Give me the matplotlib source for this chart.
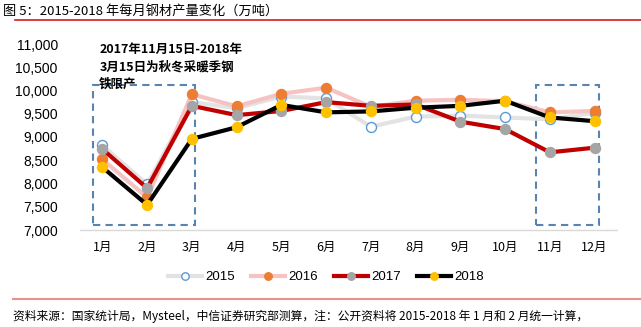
import matplotlib
matplotlib.use("Agg")
import matplotlib.pyplot as plt
from matplotlib.patches import Rectangle
from matplotlib.lines import Line2D

plt.rcParams['font.family'] = ['Noto Sans CJK SC', 'DejaVu Sans']

months = ["1月", "2月", "3月", "4月", "5月", "6月", "7月", "8月", "9月", "10月", "11月", "12月"]
y2015 = [8820, 7980, 9750, 9620, 9870, 9830, 9220, 9440, 9460, 9420, 9380, 9520]
y2016 = [8520, 7700, 9920, 9660, 9930, 10060, 9650, 9780, 9800, 9770, 9530, 9560]
y2017 = [8740, 7900, 9670, 9470, 9560, 9750, 9670, 9700, 9330, 9170, 8670, 8770]
y2018 = [8350, 7540, 8960, 9210, 9690, 9530, 9550, 9630, 9670, 9780, 9420, 9340]
yticks = [7000, 7500, 8000, 8500, 9000, 9500, 10000, 10500, 11000]

W, H = 641, 327
fig = plt.figure(figsize=(W / 100, H / 100), dpi=100)
ax = fig.add_axes([80 / W, (H - 230) / H, 537 / W, 186 / H])

x = list(range(len(months)))
series = [
    ("2015", y2015, "#e3e3e3", "white", "#5b9bd5"),
    ("2016", y2016, "#f6c3c3", "#ed7d31", "#ed7d31"),
    ("2017", y2017, "#c00000", "#a5a5a5", "#a5a5a5"),
    ("2018", y2018, "#000000", "#ffc000", "#ffc000"),
]
handles = []
for name, vals, lc, mfc, mec in series:
    h, = ax.plot(x, vals, color=lc, lw=3, marker="o", markersize=7.2,
                 markerfacecolor=mfc, markeredgecolor=mec, markeredgewidth=1.0,
                 label=name, solid_joinstyle="miter")
    handles.append(h)

ax.set_xlim(-0.5, 11.5)
ax.set_ylim(7000, 11000)
ax.set_yticks(yticks)
ax.set_yticklabels([f"{v:,}" for v in yticks], fontsize=10, family="Liberation Sans")
ax.set_xticks(x)
ax.set_xticklabels(months, fontsize=9)
ax.tick_params(axis="both", length=0)
ax.tick_params(axis="y", pad=16)
ax.tick_params(axis="x", pad=8)
for s in ["top", "right", "left"]:
    ax.spines[s].set_visible(False)
ax.spines["bottom"].set_color("#d9d9d9")
ax.spines["bottom"].set_linewidth(1)

# restriction periods
for x0, x1 in [(-0.21, 2.07), (9.68, 11.09)]:
    ax.add_patch(Rectangle((x0, 7100), x1 - x0, 10120 - 7100, fill=False,
                           edgecolor="#5a84b0", lw=1.5, ls=(0, (3.5, 2.5)),
                           clip_on=False, zorder=1))

ax.text(-0.07, 11020, "2017年11月15日-2018年\n3月15日为秋冬采暖季钢\n铁限产",
        fontsize=9, fontweight="bold", va="top", ha="left", linespacing=1.45)

fig.legend(handles=handles, loc="center", bbox_to_anchor=(326 / W, (H - 277) / H),
           ncol=4, frameon=False, handlelength=2.6, markerscale=0.75,
           columnspacing=1.2, handletextpad=0.25,
           prop={"family": "Liberation Sans", "size": 9.5})

fig.text(3 / W, (H - 11) / H, "图 5：2015-2018 年每月钢材产量变化（万吨）",
         fontsize=9.5, va="center", ha="left")
fig.add_artist(Line2D([15 / W, 1], [(H - 20) / H] * 2, color="#d7191c", lw=1.2))
fig.add_artist(Line2D([13 / W, 1], [(H - 299) / H] * 2, color="#e8908c", lw=1.5))
fig.text(13 / W, (H - 316) / H,
         "资料来源：国家统计局，Mysteel，中信证券研究部测算，注：公开资料将 2015-2018 年 1 月和 2 月统一计算，",
         fontsize=8.5, va="center", ha="left")

fig.savefig("out.png", dpi=100)
